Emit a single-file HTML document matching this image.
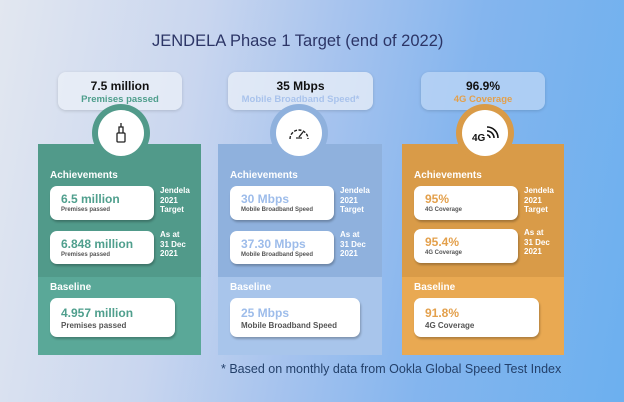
<!DOCTYPE html>
<html><head><meta charset="utf-8"><style>
*{margin:0;padding:0;box-sizing:border-box}
body{width:624px;height:402px;overflow:hidden;position:relative;font-family:"Liberation Sans",sans-serif;
background:linear-gradient(100deg,#e2e7f0 0%,#c9d6ef 30%,#a6c3ee 50%,#84b5ee 70%,#6cb0ef 100%)}
.a{position:absolute}
.title{left:152px;top:32px;font-size:16.5px;color:#2c3566;white-space:nowrap}
.lab{height:38px;top:72px;border-radius:8px;background:rgba(235,240,248,0.75);box-shadow:0 1px 3px rgba(0,0,0,.15);text-align:center}
.lab b{display:block;font-size:12px;color:#111;margin-top:7px}
.lab i{display:block;font-style:normal;font-weight:bold;font-size:9.5px;margin-top:1px}
.panel{top:144px;height:211px;width:163px}
.top{position:absolute;left:0;top:0;width:100%;height:133px}
.bot{position:absolute;left:0;top:133px;width:100%;height:78px}
.circ{width:58px;height:58px;border-radius:50%;top:104px}
.circ div{position:absolute;left:6px;top:6px;width:46px;height:46px;border-radius:50%;background:#fff;display:flex;align-items:center;justify-content:center}
.h{position:absolute;left:12px;color:#fff;font-weight:bold;font-size:10px}
.box{position:absolute;left:12px;background:#fff;border-radius:7px;box-shadow:1px 2px 2px rgba(0,0,0,.25)}
.box b{position:absolute;left:11px;top:6px;font-size:12px}
.box i{position:absolute;left:11px;top:21px;font-style:normal;font-weight:bold;font-size:6px;color:#555}
.side{position:absolute;left:122px;color:#fff;font-weight:bold;font-size:8px;line-height:9.5px}
.bb b{font-size:12px;top:8px}
.bb i{font-size:8px;top:23px;color:#555}
</style></head><body>
<div class="a title">JENDELA Phase 1 Target (end of 2022)</div>

<div class="a lab" style="left:58px;width:124px"><b>7.5 million</b><i style="color:#4e9e8c">Premises passed</i></div>
<div class="a lab" style="left:228px;width:145px"><b>35 Mbps</b><i style="color:#a9c3ec">Mobile Broadband Speed*</i></div>
<div class="a lab" style="left:421px;width:124px;background:rgba(190,215,245,.75)"><b>96.9%</b><i style="color:#e3a04c">4G Coverage</i></div>

<!-- green -->
<div class="a panel" style="left:38px">
<div class="top" style="background:#519a8a"></div><div class="bot" style="background:#5aa898"></div>
<div class="h" style="top:26px">Achievements</div>
<div class="box" style="top:42px;width:104px;height:34px"><b style="color:#4f9f8d">6.5 million</b><i>Premises passed</i></div>
<div class="side" style="top:42px">Jendela<br>2021<br>Target</div>
<div class="box" style="top:87px;width:104px;height:33px"><b style="color:#4f9f8d">6.848 million</b><i>Premises passed</i></div>
<div class="side" style="top:86px">As at<br>31 Dec<br>2021</div>
<div class="h" style="top:138px">Baseline</div>
<div class="box bb" style="top:154px;width:125px;height:39px"><b style="color:#4f9f8d">4.957 million</b><i>Premises passed</i></div>
</div>
<div class="a circ" style="left:92px;background:#519a8a"><div><svg width="14" height="22" viewBox="0 0 14 22"><rect x="3" y="11" width="8" height="9" rx="1" fill="none" stroke="#222" stroke-width="1.3"/><path d="M5 11V5h4v6M7 5V1" stroke="#222" stroke-width="1.3" fill="none"/></svg></div></div>

<!-- blue -->
<div class="a panel" style="left:218px;width:164px">
<div class="top" style="background:#8fb1dd"></div><div class="bot" style="background:#a8c5eb"></div>
<div class="h" style="top:26px">Achievements</div>
<div class="box" style="top:42px;width:104px;height:34px"><b style="color:#9dbcea">30 Mbps</b><i>Mobile Broadband Speed</i></div>
<div class="side" style="top:42px">Jendela<br>2021<br>Target</div>
<div class="box" style="top:87px;width:104px;height:33px"><b style="color:#9dbcea">37.30 Mbps</b><i>Mobile Broadband Speed</i></div>
<div class="side" style="top:86px">As at<br>31 Dec<br>2021</div>
<div class="h" style="top:138px">Baseline</div>
<div class="box bb" style="top:154px;width:130px;height:39px"><b style="color:#9dbcea">25 Mbps</b><i>Mobile Broadband Speed</i></div>
</div>
<div class="a circ" style="left:270px;background:#8fb1dd"><div><svg width="22" height="16" viewBox="0 0 22 16"><path d="M2 14A9 9 0 1 1 20 14" fill="none" stroke="#222" stroke-width="1.4" stroke-dasharray="3 1.5"/><path d="M11 12L15 7" stroke="#222" stroke-width="1.4"/><path d="M8 13h6" stroke="#222" stroke-width="1.2"/></svg></div></div>

<!-- orange -->
<div class="a panel" style="left:402px;width:162px">
<div class="top" style="background:#d99b48"></div><div class="bot" style="background:#e9a952"></div>
<div class="h" style="top:26px">Achievements</div>
<div class="box" style="top:42px;width:104px;height:34px"><b style="color:#e3a04c">95%</b><i>4G Coverage</i></div>
<div class="side" style="top:42px">Jendela<br>2021<br>Target</div>
<div class="box" style="top:85px;width:104px;height:34px"><b style="color:#e3a04c">95.4%</b><i>4G Coverage</i></div>
<div class="side" style="top:84px">As at<br>31 Dec<br>2021</div>
<div class="h" style="top:138px">Baseline</div>
<div class="box bb" style="top:154px;width:125px;height:39px"><b style="color:#e3a04c">91.8%</b><i>4G Coverage</i></div>
</div>
<div class="a circ" style="left:456px;background:#d99b48"><div><svg width="30" height="22" viewBox="0 0 30 22"><text x="2" y="19" font-family="Liberation Sans" font-weight="bold" font-size="10" fill="#111">4G</text><path d="M17 13a3 3 0 0 1 3 3M17 9a7 7 0 0 1 7 7M17 5a11 11 0 0 1 11 11" fill="none" stroke="#111" stroke-width="1.6"/></svg></div></div>

<div class="a" style="left:221px;top:362px;font-size:12.5px;color:#23406a">* Based on monthly data from Ookla Global Speed Test Index</div>
</body></html>
